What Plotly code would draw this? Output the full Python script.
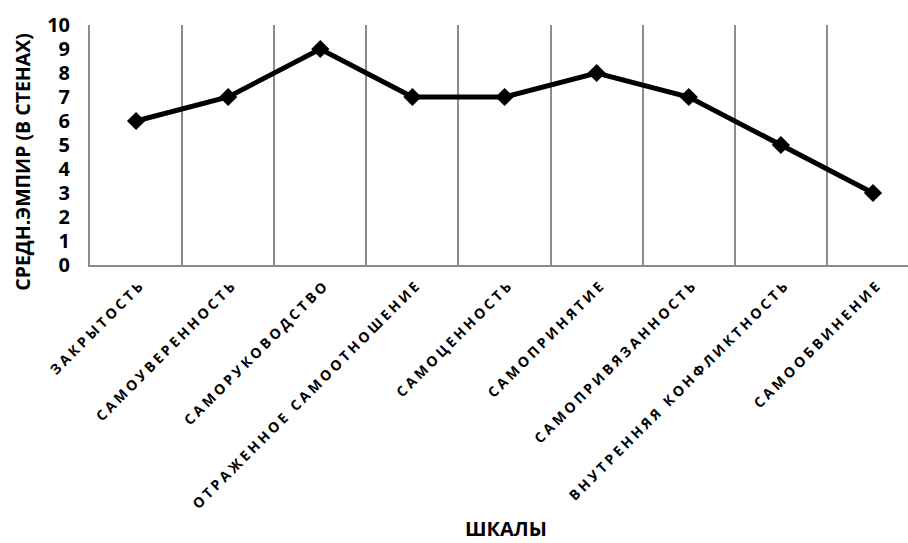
import plotly.graph_objects as go

scales = [
    "ЗАКРЫТОСТЬ",
    "САМОУВЕРЕННОСТЬ",
    "САМОРУКОВОДСТВО",
    "ОТРАЖЕННОЕ САМООТНОШЕНИЕ",
    "САМОЦЕННОСТЬ",
    "САМОПРИНЯТИЕ",
    "САМОПРИВЯЗАННОСТЬ",
    "ВНУТРЕННЯЯ КОНФЛИКТНОСТЬ",
    "САМООБВИНЕНИЕ",
]
mean_sten = [6, 7, 9, 7, 7, 8, 7, 5, 3]
y_ticks = list(range(0, 11))

FONT = "Open Sans"
GRID = "#8c8c8c"

fig = go.Figure(
    go.Scatter(
        x=scales,
        y=mean_sten,
        mode="lines+markers",
        line=dict(color="black", width=5),
        marker=dict(symbol="diamond", size=14, color="black"),
        showlegend=False,
    )
)

fig.update_layout(
    width=908,
    height=543,
    margin=dict(l=90, r=0, t=25, b=278),
    paper_bgcolor="white",
    plot_bgcolor="white",
    font=dict(family=FONT, color="black"),
    annotations=[
        # vertical axis title
        dict(
            text="СРЕДН.ЭМПИР (В СТЕНАХ)",
            xref="paper", yref="paper",
            x=-0.082, y=0.43,
            xanchor="center", yanchor="middle",
            textangle=-90,
            showarrow=False,
            font=dict(family=FONT, size=19.5, weight="bold"),
        ),
        # horizontal axis title
        dict(
            text="ШКАЛЫ",
            xref="paper", yref="paper",
            x=0.508, y=-1.098,
            xanchor="center", yanchor="middle",
            showarrow=False,
            font=dict(family=FONT, size=20, weight="bold"),
        ),
    ],
)

fig.update_xaxes(
    type="category",
    range=[-0.5, 8.38],
    tickson="boundaries",
    showgrid=True,
    gridcolor=GRID,
    gridwidth=1.5,
    showline=True,
    linecolor=GRID,
    linewidth=2,
    ticks="",
    tickangle=-45,
    ticklabelstandoff=4,
    ticklabelshift=5,
    tickfont=dict(family=FONT, size=14, weight="bold"),
    automargin=False,
)

fig.update_yaxes(
    range=[0, 10],
    tickvals=y_ticks,
    showgrid=False,
    zeroline=False,
    showline=True,
    linecolor=GRID,
    linewidth=2,
    ticks="",
    ticklabelstandoff=14,
    tickfont=dict(family=FONT, size=20, weight="bold"),
    automargin=False,
)

# widen the tracking of the category labels
spacing_css = (
    "var s=document.createElement('style');"
    "s.textContent='.xtick text{letter-spacing:3.2px;}';"
    "document.head.appendChild(s);"
)

fig.write_html("out.html", post_script=spacing_css)
